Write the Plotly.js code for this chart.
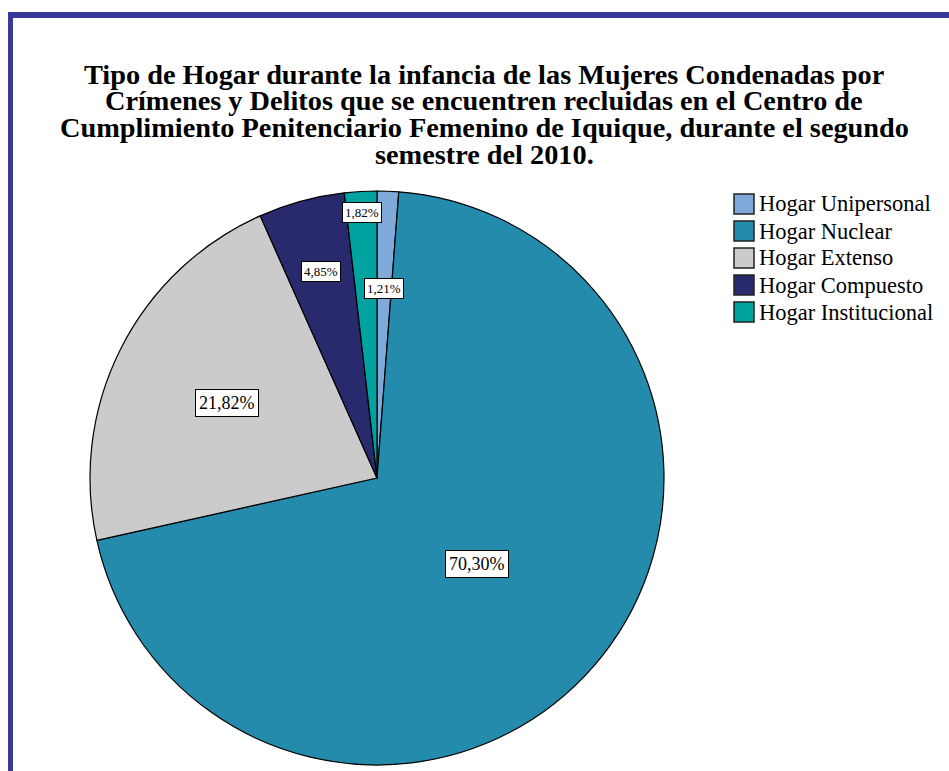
<!DOCTYPE html>
<html>
<head>
<meta charset="utf-8">
<script src="https://cdn.plot.ly/plotly-3.0.1.min.js"></script>
<style>
  html, body { margin: 0; padding: 0; background: #fff; }
  #plot { width: 949px; height: 771px; }
</style>
</head>
<body>
<div id="plot"></div>
<script>
// data
var labels = ["Hogar Unipersonal", "Hogar Nuclear", "Hogar Extenso", "Hogar Compuesto", "Hogar Institucional"];
var values = [1.21, 70.30, 21.82, 4.85, 1.82];
var colors = ["#7ea9d8", "#248bad", "#cbcbcb", "#292a6e", "#00a3a0"];

var titleLines = [
  "Tipo de Hogar durante la infancia de las Mujeres Condenadas por",
  "Crímenes y Delitos que se encuentren recluidas en el Centro de",
  "Cumplimiento Penitenciario Femenino de Iquique, durante el segundo",
  "semestre del 2010."
];

// page size and where the pie sits (px)
var W = 949, H = 771;
var cx = 377, cy = 478, R = 287;
// how far from the centre each label box sits (fraction of radius)
var labelR = [0.66, 0.46, 0.585, 0.745, 0.925];

function px(x) { return x / W; }
function py(y) { return 1 - y / H; }
function fmt(v) { return v.toFixed(2).replace(".", ",") + "%"; }

var trace = {
  type: "pie",
  labels: labels,
  values: values,
  sort: false,
  direction: "clockwise",
  rotation: 0,
  textinfo: "none",
  hoverinfo: "label+percent",
  marker: { colors: colors, line: { color: "#000", width: 1.2 } },
  domain: { x: [px(cx - R), px(cx + R)], y: [py(cy + R), py(cy - R)] },
  showlegend: false
};

var annotations = [];
var shapes = [];

// title, one annotation per line to get the tight line spacing
titleLines.forEach(function (t, i) {
  annotations.push({
    xref: "paper", yref: "paper",
    x: px(484), y: py(74 + i * 27),
    xanchor: "center", yanchor: "middle",
    text: "<b>" + t + "</b>",
    showarrow: false,
    font: { family: "Liberation Serif, Times New Roman, serif", size: 28.3, color: "#000" }
  });
});

// boxed percentage labels at each slice's mid angle
var total = values.reduce(function (a, b) { return a + b; }, 0);
var cum = 0;
values.forEach(function (v, i) {
  var mid = (cum + v / 2) / total * 2 * Math.PI;
  cum += v;
  var r = labelR[i] * R;
  annotations.push({
    xref: "paper", yref: "paper",
    x: px(cx + r * Math.sin(mid)), y: py(cy - r * Math.cos(mid)),
    xanchor: "center", yanchor: "middle",
    text: fmt(v),
    showarrow: false,
    bgcolor: "#fff", bordercolor: "#000", borderwidth: 1, borderpad: v > 10 ? 3 : 2,
    font: { family: "Liberation Serif, Times New Roman, serif", size: v > 10 ? 18 : 13, color: "#000" }
  });
});

// legend drawn by hand so the swatches can be the larger size
labels.forEach(function (lab, i) {
  var top = 194 + i * 27;
  shapes.push({
    type: "rect", xref: "paper", yref: "paper",
    x0: px(734), x1: px(754), y0: py(top), y1: py(top + 20),
    fillcolor: colors[i], line: { color: "#222", width: 1.5 }
  });
  annotations.push({
    xref: "paper", yref: "paper",
    x: px(757), y: py(top + 10),
    xanchor: "left", yanchor: "middle",
    text: lab,
    showarrow: false,
    font: { family: "Liberation Serif, Times New Roman, serif", size: 22.5, color: "#000" }
  });
});

// blue frame along top and left
shapes.push({
  type: "rect", xref: "paper", yref: "paper",
  x0: px(8), x1: 1, y0: py(18), y1: py(12),
  fillcolor: "#383898", line: { width: 0 }
});
shapes.push({
  type: "rect", xref: "paper", yref: "paper",
  x0: px(8), x1: px(13), y0: 0, y1: py(12),
  fillcolor: "#383898", line: { width: 0 }
});

var layout = {
  width: W, height: H,
  margin: { l: 0, r: 0, t: 0, b: 0 },
  paper_bgcolor: "#fff",
  annotations: annotations,
  shapes: shapes
};

Plotly.newPlot("plot", [trace], layout, { displayModeBar: false, staticPlot: true });
</script>
</body>
</html>
